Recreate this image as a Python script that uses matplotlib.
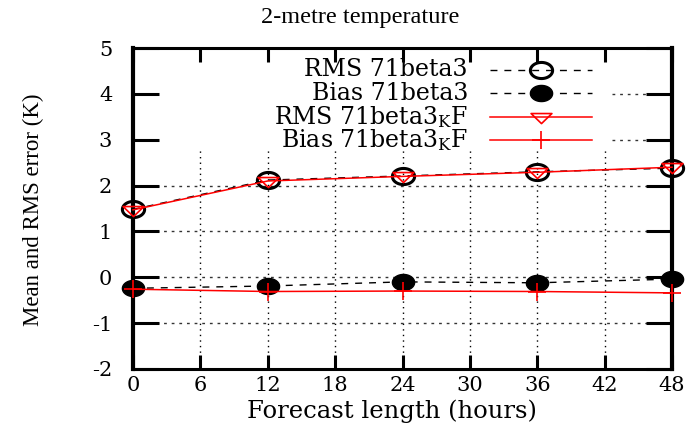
import matplotlib
matplotlib.use("Agg")
import matplotlib.pyplot as plt
from matplotlib.path import Path
from matplotlib.lines import Line2D
import numpy as np

# ---- data ----
forecast_hours = [0, 12, 24, 36, 48]
rms_71beta3 = [1.48, 2.12, 2.21, 2.30, 2.38]
bias_71beta3 = [-0.24, -0.19, -0.10, -0.12, -0.04]
rms_71beta3_kf = [1.47, 2.10, 2.20, 2.29, 2.40]
bias_71beta3_kf = [-0.26, -0.31, -0.30, -0.31, -0.34]
x_ticks = [0, 6, 12, 18, 24, 30, 36, 42, 48]
y_ticks = [-2, -1, 0, 1, 2, 3, 4, 5]
series_labels = ["RMS 71beta3", "Bias 71beta3",
                 r"RMS 71beta3$_\mathrm{K}$F", r"Bias 71beta3$_\mathrm{K}$F"]

plt.rcParams['mathtext.fontset'] = 'dejavuserif'
plt.rcParams['axes.unicode_minus'] = False
HFONT = 'DejaVu Serif'

# stretched marker shapes (reference is horizontally stretched)
t = np.linspace(0, 2 * np.pi, 60)
ellipse = Path(np.column_stack([1.38 * np.cos(t), np.sin(t)]), closed=True)
tri_down = Path([(-1.45, 0.55), (1.45, 0.55), (0, -0.85), (-1.45, 0.55)], closed=True)

fig = plt.figure(figsize=(6.95, 4.38), dpi=100)
ax = fig.add_axes([133 / 695, 1 - 369 / 438, (672 - 133) / 695, (369 - 48) / 438])
ax.set_xlim(0, 48)
ax.set_ylim(-2, 5)

# grid (gnuplot-style, cut out under the key)
key_bottom = 2.77
for xv in x_ticks[1:-1]:
    ax.plot([xv, xv], [-2, key_bottom], color='black', lw=1.0,
            linestyle=(0, (1, 3)), zorder=1)
for yv in y_ticks[1:-1]:
    if yv <= 2:
        ax.plot([0, 48], [yv, yv], color='#333333', lw=1.0,
                linestyle=(0, (2, 3.5)), zorder=1)
    else:
        ax.plot([42.7, 48], [yv, yv], color='#333333', lw=1.0,
                linestyle=(0, (2, 3.5)), zorder=1)

# data
ax.plot(forecast_hours, rms_71beta3, color='black', lw=1.0, linestyle=(0, (5, 5)),
        marker=ellipse, markersize=16, markerfacecolor='none',
        markeredgecolor='black', markeredgewidth=2.2, zorder=3, clip_on=False)
ax.plot(forecast_hours, bias_71beta3, color='black', lw=1.0, linestyle=(0, (5, 5)),
        marker=ellipse, markersize=16, markerfacecolor='black',
        markeredgecolor='black', zorder=3, clip_on=False)
ax.plot(forecast_hours, rms_71beta3_kf, color='red', lw=1.1,
        marker=tri_down, markersize=15, markerfacecolor='none',
        markeredgecolor='red', markeredgewidth=1.2, zorder=4, clip_on=False)
ax.plot(forecast_hours, bias_71beta3_kf, color='red', lw=1.1,
        marker='+', markersize=13, markeredgewidth=1.2, zorder=4, clip_on=False)

# axes styling
for side in ['left', 'right']:
    ax.spines[side].set_linewidth(3.0)
for side in ['top', 'bottom']:
    ax.spines[side].set_linewidth(2.2)
ax.set_xticks(x_ticks)
ax.set_yticks(y_ticks)
ax.tick_params(axis='y', direction='in', length=19, width=2.2, left=True, right=True,
               labelsize=15, pad=15)
ax.tick_params(axis='x', direction='in', length=10, width=2.2, top=True, bottom=True,
               labelsize=15, pad=5)
for lab in ax.get_xticklabels() + ax.get_yticklabels():
    lab.set_fontfamily(HFONT)

fig.text(33 / 695, 1 - 210 / 438, "Mean and RMS error (K)", family='Liberation Serif',
         fontsize=16.5, rotation=90, ha='center', va='center')
fig.text(392 / 695, 1 - 411 / 438, "Forecast length (hours)", family=HFONT,
         fontsize=17.5, ha='center', va='center')
fig.text(360 / 695, 1 - 17 / 438, "2-metre temperature", family='Liberation Serif',
         fontsize=17.5, ha='center', va='center')

# key
styles = [
    dict(color='black', lw=1.0, linestyle=(0, (5, 5)), marker=ellipse, markersize=16,
         markerfacecolor='none', markeredgecolor='black', markeredgewidth=2.2),
    dict(color='black', lw=1.0, linestyle=(0, (5, 5)), marker=ellipse, markersize=16,
         markerfacecolor='black', markeredgecolor='black'),
    dict(color='red', lw=1.1, marker=tri_down, markersize=15, markerfacecolor='none',
         markeredgecolor='red', markeredgewidth=1.2),
    dict(color='red', lw=1.1, marker='+', markersize=13, markeredgewidth=1.2,
         markeredgecolor='red'),
]
row_y = [70, 93, 117, 140]
for lab, st, yp in zip(series_labels, styles, row_y):
    fy = 1 - yp / 438
    fig.text(468 / 695, fy, lab, family=HFONT, fontsize=17, ha='right', va='center')
    fig.add_artist(Line2D([490 / 695, 592 / 695], [fy, fy],
                          **{k: v for k, v in st.items() if k != 'marker'}))
    fig.add_artist(Line2D([541 / 695], [fy], linestyle='none',
                          **{k: v for k, v in st.items() if k not in ('lw', 'linestyle', 'color')}))

fig.savefig("out.png", dpi=100)
